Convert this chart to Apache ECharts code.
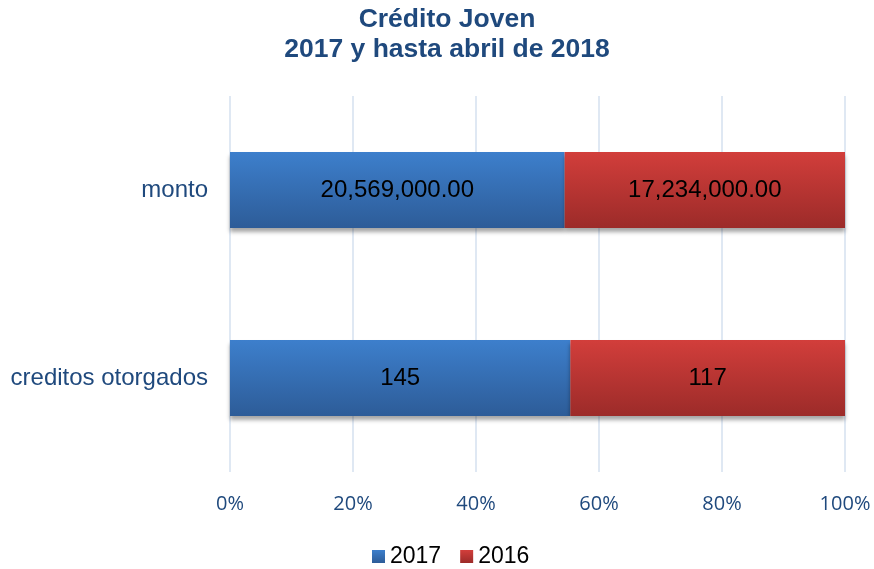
<!DOCTYPE html>
<html>
<head>
<meta charset="utf-8">
<script src="https://cdn.jsdelivr.net/npm/echarts@6/dist/echarts.min.js"></script>
<style>
  html, body { margin: 0; padding: 0; background: #fff; }
  #main { width: 874px; height: 569px; }
</style>
</head>
<body>
<div id="main"></div>
<script>
// categories from bottom to top (ECharts category y axis starts at the bottom)
const categories = ['creditos otorgados', 'monto']
const values2017 = [145, 20569000]
const values2016 = [117, 17234000]
const seriesNames = ['2017', '2016']

// share of each year in the row, the chart is a 100% stacked bar
const totals = categories.map((c, i) => values2017[i] + values2016[i])
const pct2017 = values2017.map((v, i) => v / totals[i] * 100)
const pct2016 = values2016.map((v, i) => v / totals[i] * 100)

function fmt (v, i) {
  // monto is shown with two decimals, credits as plain integers
  if (i === 1) {
    return v.toLocaleString('en-US', { minimumFractionDigits: 2, maximumFractionDigits: 2 })
  }
  return String(v)
}

const myChart = echarts.init(document.getElementById('main'))

function grad (top, bottom) {
  return new echarts.graphic.LinearGradient(0, 0, 0, 1, [
    { offset: 0, color: top },
    { offset: 1, color: bottom }
  ])
}

const barStyle = {
  shadowColor: 'rgba(0,0,0,0.35)',
  shadowBlur: 4,
  shadowOffsetY: 4
}

const labelStyle = {
  show: true,
  position: 'inside',
  fontFamily: 'Liberation Sans',
  fontSize: 24,
  color: '#000'
}

myChart.setOption({
  animation: false,
  title: {
    text: 'Crédito Joven\n2017 y hasta abril de 2018',
    // title is centred a bit right of the page centre
    left: 442,
    textAlign: 'center',
    top: 0,
    textStyle: {
      fontFamily: 'Liberation Sans',
      fontSize: 26.5,
      fontWeight: 'bold',
      color: '#1f497d',
      lineHeight: 30
    }
  },
  grid: {
    left: 230,
    right: 29,
    top: 96,
    bottom: 97
  },
  legend: {
    top: 540,
    left: 367,
    itemWidth: 13,
    itemHeight: 13,
    itemGap: 19,
    icon: 'rect',
    textStyle: {
      fontFamily: 'Liberation Sans',
      fontSize: 23,
      color: '#000'
    },
    data: seriesNames
  },
  xAxis: {
    type: 'value',
    min: 0,
    max: 100,
    interval: 20,
    axisLine: { show: false },
    axisTick: { show: false },
    splitLine: { lineStyle: { color: '#d5e1ef', width: 1.5 } },
    axisLabel: {
      formatter: '{value}%',
      margin: 22,
      fontFamily: 'Open Sans',
      fontSize: 20,
      color: '#1f497d'
    }
  },
  yAxis: {
    type: 'category',
    data: categories,
    axisLine: { show: false },
    axisTick: { show: false },
    axisLabel: {
      margin: 22,
      fontFamily: 'Liberation Sans',
      fontSize: 24,
      color: '#1f497d'
    }
  },
  series: [
    {
      name: seriesNames[0],
      type: 'bar',
      stack: 'total',
      barWidth: 76,
      data: pct2017,
      itemStyle: Object.assign({ color: grad('#3d7fcc', '#2d5c98') }, barStyle),
      label: Object.assign({ formatter: p => fmt(values2017[p.dataIndex], p.dataIndex) }, labelStyle)
    },
    {
      name: seriesNames[1],
      type: 'bar',
      stack: 'total',
      barWidth: 76,
      data: pct2016,
      itemStyle: Object.assign({ color: grad('#d23e3b', '#9c2b29') }, barStyle),
      label: Object.assign({ formatter: p => fmt(values2016[p.dataIndex], p.dataIndex) }, labelStyle)
    }
  ]
})
</script>
</body>
</html>
